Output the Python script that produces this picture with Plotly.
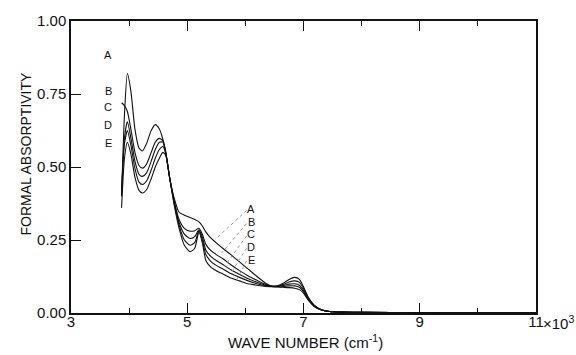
import plotly.graph_objects as go

# wave number (x10^3 cm^-1)
wn = [3.87, 3.92, 3.97, 4.03, 4.10, 4.17, 4.23, 4.30, 4.38, 4.45, 4.52, 4.58, 4.63,
      4.70, 4.78, 4.86, 4.95, 5.05, 5.13, 5.20, 5.26, 5.32, 5.40, 5.50, 5.62, 5.75,
      5.90, 6.05, 6.20, 6.35, 6.45, 6.55, 6.65, 6.75, 6.85, 6.93, 7.00, 7.08, 7.18,
      7.30, 7.45, 7.65, 8.0, 9.0, 10.0, 11.0]

curve_A = [0.40, 0.68, 0.82, 0.76, 0.63, 0.565, 0.555, 0.58, 0.625, 0.645, 0.63, 0.595, 0.55,
           0.46, 0.39, 0.345, 0.335, 0.327, 0.32, 0.312, 0.298, 0.278, 0.258, 0.24, 0.22, 0.20,
           0.175, 0.15, 0.125, 0.102, 0.092, 0.093, 0.102, 0.115, 0.122, 0.115, 0.09, 0.055, 0.028,
           0.012, 0.005, 0.003, 0.002, 0.001, 0.001, 0.001]
curve_B = [0.72, 0.71, 0.69, 0.63, 0.55, 0.505, 0.496, 0.51, 0.55, 0.585, 0.598, 0.59, 0.55,
           0.46, 0.38, 0.32, 0.29, 0.28, 0.282, 0.29, 0.27, 0.235, 0.215, 0.20, 0.185, 0.165,
           0.145, 0.127, 0.112, 0.098, 0.092, 0.092, 0.098, 0.106, 0.11, 0.105, 0.085, 0.052, 0.026,
           0.011, 0.005, 0.003, 0.002, 0.001, 0.001, 0.001]
curve_C = [0.40, 0.60, 0.655, 0.60, 0.52, 0.475, 0.468, 0.48, 0.52, 0.56, 0.585, 0.585, 0.55,
           0.46, 0.375, 0.31, 0.27, 0.255, 0.262, 0.285, 0.26, 0.215, 0.195, 0.18, 0.165, 0.148,
           0.132, 0.117, 0.105, 0.095, 0.092, 0.091, 0.094, 0.099, 0.10, 0.095, 0.078, 0.05, 0.025,
           0.011, 0.005, 0.003, 0.002, 0.001, 0.001, 0.001]
curve_D = [0.42, 0.58, 0.625, 0.575, 0.495, 0.448, 0.44, 0.452, 0.49, 0.53, 0.56, 0.57, 0.545,
           0.46, 0.37, 0.30, 0.25, 0.232, 0.242, 0.282, 0.25, 0.20, 0.178, 0.163, 0.15, 0.135,
           0.122, 0.11, 0.10, 0.093, 0.091, 0.09, 0.091, 0.093, 0.093, 0.088, 0.073, 0.047, 0.024,
           0.011, 0.005, 0.003, 0.002, 0.001, 0.001, 0.001]
curve_E = [0.36, 0.53, 0.585, 0.545, 0.465, 0.42, 0.411, 0.422, 0.46, 0.50, 0.53, 0.55, 0.54,
           0.46, 0.365, 0.29, 0.232, 0.21, 0.222, 0.278, 0.24, 0.18, 0.158, 0.145, 0.133, 0.12,
           0.11, 0.10, 0.095, 0.091, 0.09, 0.089, 0.088, 0.087, 0.085, 0.08, 0.068, 0.045, 0.023,
           0.011, 0.005, 0.003, 0.002, 0.001, 0.001, 0.001]

series_names = ["A", "B", "C", "D", "E"]
series_values = [curve_A, curve_B, curve_C, curve_D, curve_E]

# label positions (data coordinates)
left_label_x = 3.64
left_label_y = [0.882, 0.762, 0.705, 0.643, 0.581]
right_label_x = 6.10
right_label_y = [0.355, 0.312, 0.27, 0.225, 0.18]
# leader line ends (start near label, end on curve)
leader_start = [(6.02, 0.351), (6.02, 0.306), (6.02, 0.264), (6.02, 0.222), (6.02, 0.178)]
leader_end = [(5.48, 0.252), (5.56, 0.198), (5.65, 0.163), (5.75, 0.136), (5.85, 0.113)]

x_tickvals = [3, 5, 7, 9, 11]
x_ticktext = ["3", "5", "7", "9", "11"]
y_tickvals = [0, 0.25, 0.5, 0.75, 1.0]

FONT = "Liberation Sans, Arial, sans-serif"
INK = "#111111"

fig = go.Figure()
for name, vals in zip(series_names, series_values):
    fig.add_trace(go.Scatter(x=wn, y=vals, mode="lines", name=name,
                             line=dict(color=INK, width=1.1, shape="spline", smoothing=0.6),
                             showlegend=False, hoverinfo="skip"))

annotations = []
for name, yv in zip(series_names, left_label_y):
    annotations.append(dict(x=left_label_x, y=yv, xref="x", yref="y", text=name, showarrow=False,
                            font=dict(family=FONT, size=11, color=INK)))
for name, yv in zip(series_names, right_label_y):
    annotations.append(dict(x=right_label_x, y=yv, xref="x", yref="y", text=name, showarrow=False,
                            font=dict(family=FONT, size=11, color=INK)))

shapes = []
for (x0, y0), (x1, y1) in zip(leader_start, leader_end):
    shapes.append(dict(type="line", xref="x", yref="y", x0=x0, y0=y0, x1=x1, y1=y1,
                       line=dict(color="#9a9a9a", width=1, dash="dot")))

# axis titles and exponent marker
annotations.append(dict(x=-0.097, y=0.546, xref="paper", yref="paper", text="FORMAL ABSORPTIVITY",
                        textangle=-90, showarrow=False, xanchor="center", yanchor="middle",
                        font=dict(family=FONT, size=14, color=INK)))
annotations.append(dict(x=0.505, y=-0.097, xref="paper", yref="paper",
                        text="WAVE NUMBER (cm<sup>-1</sup>)", showarrow=False,
                        xanchor="center", yanchor="middle", font=dict(family=FONT, size=15, color=INK)))
annotations.append(dict(x=1.011, y=-0.032, xref="paper", yref="paper", text="×10<sup>3</sup>",
                        showarrow=False, xanchor="left", yanchor="middle",
                        font=dict(family=FONT, size=15, color=INK)))

fig.update_layout(
    width=576, height=355,
    margin=dict(l=71, r=40, t=18, b=42),
    paper_bgcolor="white", plot_bgcolor="white",
    font=dict(family=FONT, size=15, color=INK),
    annotations=annotations, shapes=shapes,
    xaxis=dict(range=[3, 11], tickvals=x_tickvals, ticktext=x_ticktext,
               ticks="inside", ticklen=10, tickwidth=1, tickcolor=INK,
               minor=dict(dtick=1, tick0=3, ticks="inside", ticklen=5, tickcolor=INK, showgrid=False),
               showline=True, linecolor=INK, linewidth=1.5, mirror="ticks",
               ticklabelstandoff=-6,
               showgrid=False, zeroline=False, tickfont=dict(family=FONT, size=15, color=INK)),
    yaxis=dict(range=[0, 1.0], tickvals=y_tickvals, tickformat=".2f",
               ticks="inside", ticklen=10, tickwidth=1, tickcolor=INK,
               showline=True, linecolor=INK, linewidth=1.5, mirror=True,
               showgrid=False, zeroline=False, tickfont=dict(family=FONT, size=15, color=INK)),
)

fig.write_html("out.html", config={"displayModeBar": False},
               post_script="document.body.style.margin='0px';document.body.style.overflow='hidden';")
